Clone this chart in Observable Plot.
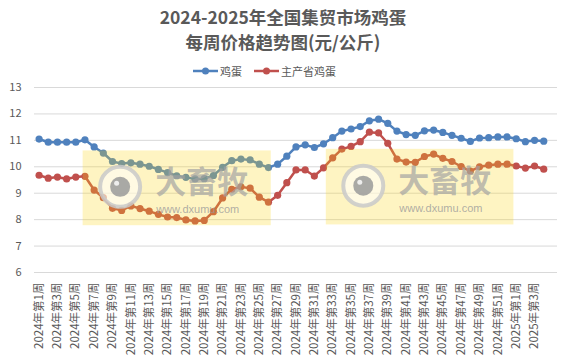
<!DOCTYPE html>
<html><head><meta charset="utf-8">
<script src="https://cdn.jsdelivr.net/npm/d3@7"></script>
<script src="https://cdn.jsdelivr.net/npm/@observablehq/plot@0.6"></script>
<style>
body{margin:0;background:#fff;font-family:"Noto Sans CJK SC","Noto Sans",sans-serif;}
#wrap{width:566px;height:361px;position:relative;overflow:hidden;background:#fff}
#title{position:absolute;top:3.5px;left:0;width:566px;text-align:center;font-weight:bold;font-size:17.5px;color:#595959;line-height:25px}
#legend{position:absolute;top:61px;left:193px;height:20px;display:flex;align-items:center;font-size:11px;color:#595959;white-space:nowrap}
#legend svg{display:block}
#legend span{margin-left:2px;margin-right:12px}
#chart{position:absolute;top:78px;left:0}
</style></head>
<body><div id="wrap">
<div id="title">2024-2025年全国集贸市场鸡蛋<br>每周价格趋势图(元/公斤)</div>
<div id="legend"></div>
<div id="chart"></div>
</div>
<script>
// categories
const weeks = [];
for (let k = 1; k <= 52; k++) weeks.push(`2024年第${k}周`);
for (let k = 1; k <= 4; k++) weeks.push(`2025年第${k}周`);
// series values (元/公斤)
const egg = [11.05,10.93,10.93,10.93,10.93,11.02,10.75,10.52,10.2,10.12,10.15,10.1,10.02,9.9,9.78,9.66,9.6,9.54,9.55,9.67,9.98,10.23,10.29,10.26,10.1,9.97,10.1,10.4,10.75,10.83,10.73,10.87,11.1,11.35,11.43,11.52,11.74,11.8,11.64,11.35,11.22,11.19,11.36,11.39,11.3,11.19,11.08,10.96,11.09,11.1,11.13,11.13,11.06,10.95,11.0,10.97];
const mainEgg = [9.68,9.57,9.61,9.54,9.61,9.64,9.12,8.83,8.43,8.35,8.52,8.42,8.32,8.2,8.1,8.08,7.99,7.95,7.97,8.3,8.82,9.15,9.24,9.19,8.85,8.66,8.92,9.4,9.88,9.88,9.65,9.96,10.34,10.67,10.77,10.95,11.31,11.28,10.89,10.29,10.18,10.17,10.39,10.48,10.32,10.2,10.01,9.84,10.0,10.06,10.1,10.1,10.03,9.95,10.03,9.91];
const seriesNames = ["鸡蛋","主产省鸡蛋"];
const yTicks = [6,7,8,9,10,11,12,13];
const xTickIdx = d3.range(0, weeks.length, 2);

const colors = ["#4F81BD","#C0504D"];
const rows = weeks.map((w, i) => ({i, egg: egg[i], main: mainEgg[i]}));

// watermark overlay regions (in data units)
const watermarks = [{x1:4.8, x2:25.3, y1:7.77, y2:10.6},{x1:31.3, x2:51.75, y1:7.8, y2:10.66}];

// legend
const leg = document.getElementById("legend");
seriesNames.forEach((n, k) => {
  leg.insertAdjacentHTML("beforeend",
    `<svg width="25" height="10"><line x1="0" x2="25" y1="5" y2="5" stroke="${colors[k]}" stroke-width="2.5"/><circle cx="12.5" cy="5" r="3.5" fill="${colors[k]}"/></svg><span>${n}</span>`);
});

const wmY = d => (d.y1 + d.y2) / 2;
const chart = Plot.plot({
  width: 566, height: 283,
  marginLeft: 34, marginRight: 9, marginTop: 9, marginBottom: 89,
  style: {fontFamily: '"Noto Sans CJK SC","Noto Sans",sans-serif', color: "#595959", fontSize: "11px", background: "transparent"},
  x: {type: "linear", domain: [-0.5, 56.5]},
  y: {domain: [6, 13]},
  marks: [
    Plot.ruleY(yTicks, {stroke: "#d9d9d9", strokeWidth: 1}),
    Plot.axisY(yTicks, {tickSize: 0, tickPadding: 13, fontSize: 11, label: null}),
    Plot.axisX(xTickIdx, {tickSize: 0, tickPadding: 10, tickRotate: -90, fontSize: 11.5, label: null, tickFormat: i => weeks[i]}),
    Plot.line(rows, {x: "i", y: "egg", stroke: colors[0], strokeWidth: 2.5}),
    Plot.dot(rows, {x: "i", y: "egg", fill: colors[0], r: 3.6}),
    Plot.line(rows, {x: "i", y: "main", stroke: colors[1], strokeWidth: 2.5}),
    Plot.dot(rows, {x: "i", y: "main", fill: colors[1], r: 3.6}),
    // watermark
    Plot.rect(watermarks, {x1: "x1", x2: "x2", y1: "y1", y2: "y2", fill: "rgb(250,214,20)", fillOpacity: 0.26}),
    Plot.dot(watermarks, {x: "x1", y: wmY, dx: 37, dy: -1.5, r: 20, fill: "#ffffff", fillOpacity: 0.55, stroke: "#c9c9c9", strokeWidth: 4, strokeOpacity: 0.85}),
    Plot.dot(watermarks, {x: "x1", y: wmY, dx: 37, dy: -1.5, r: 10, fill: "#9a9a9a", fillOpacity: 0.85}),
    Plot.dot(watermarks, {x: "x1", y: wmY, dx: 33.5, dy: -5, r: 2.5, fill: "#ffffff", fillOpacity: 0.8}),
    Plot.text(watermarks, {x: "x1", y: wmY, dx: 72, dy: -5, text: () => "大畜牧", textAnchor: "start", fontSize: 31, fontWeight: "bold", fill: "#a3a3a3", fillOpacity: 0.7, letterSpacing: 2.5}),
    Plot.text(watermarks, {x: "x1", y: wmY, dx: 73, dy: 21.5, text: () => "www.dxumu.com", textAnchor: "start", fontSize: 11, fontFamily: '"Liberation Sans",Arial,sans-serif', fill: "#9b9b9b", fillOpacity: 0.8, letterSpacing: 1.9})
  ]
});
document.getElementById("chart").appendChild(chart);
</script>
</body></html>
